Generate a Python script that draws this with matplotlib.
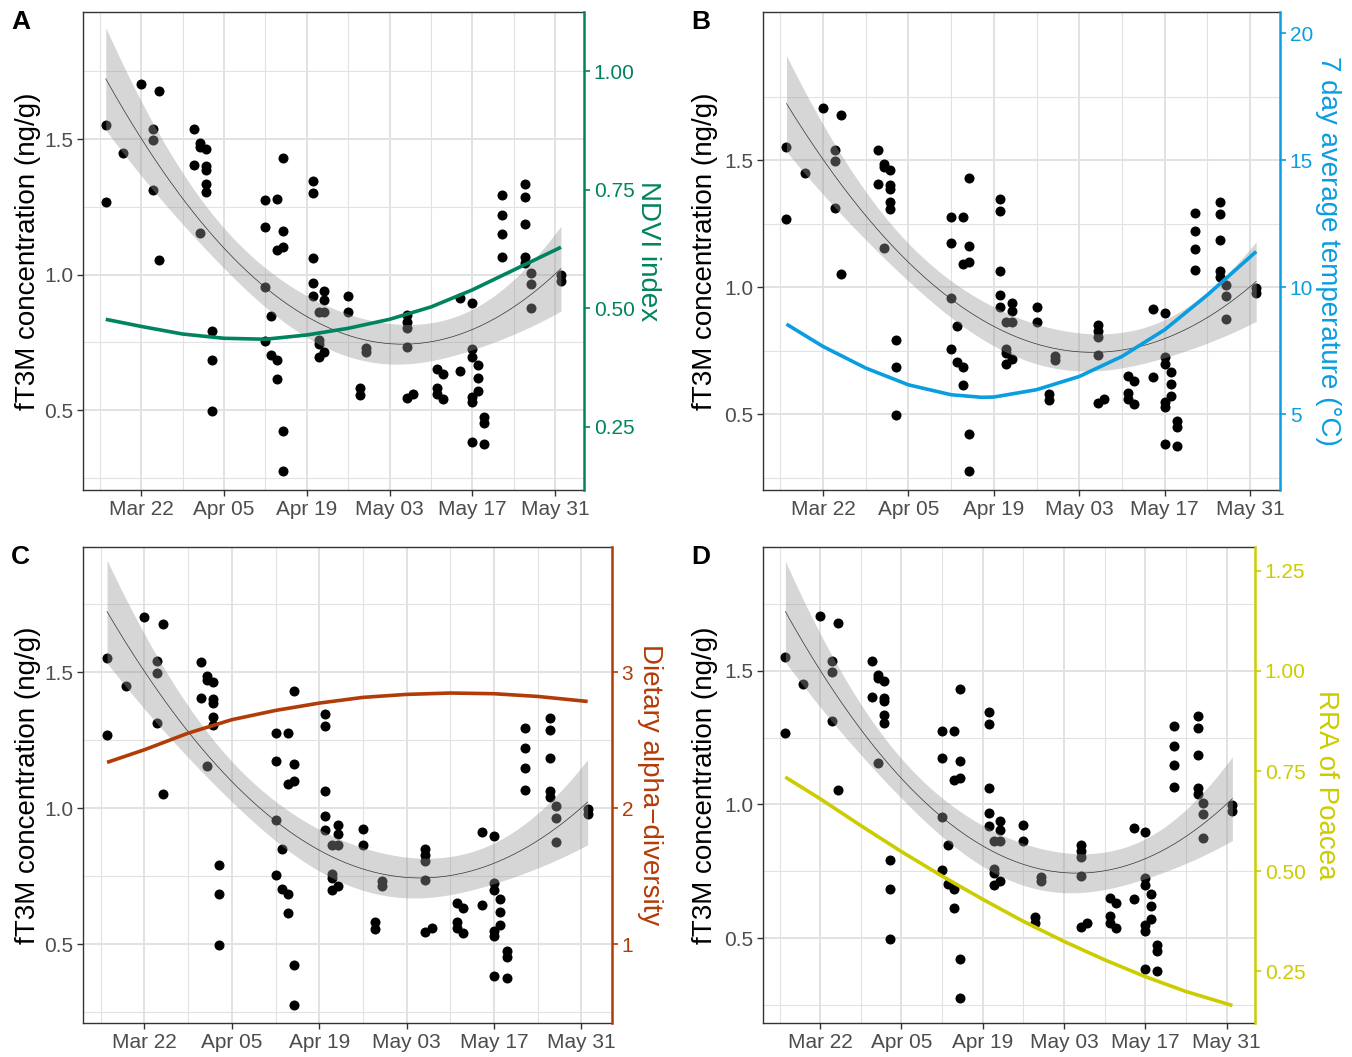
import numpy as np
import matplotlib
matplotlib.use('Agg')
import matplotlib.pyplot as plt

plt.rcParams['font.family'] = ['Liberation Sans', 'DejaVu Sans']

# fT3M samples: day offset from Mar 22, concentration (ng/g)
sample_day = [-6, -6, -3, 0, 2, 2, 2, 3, 3,
              9, 9, 10, 10, 10, 11, 11, 11, 11, 11, 12, 12, 12,
              21, 21, 21, 21, 22, 22, 23, 23, 23, 23, 24, 24, 24, 24, 24,
              29, 29, 29, 29, 29, 30, 30, 30, 30, 31, 31, 31, 31,
              35, 35, 37, 37, 38, 38,
              45, 45, 45, 45, 45, 46, 50, 50, 50, 51, 51, 54, 54,
              56, 56, 56, 56, 56, 56, 57, 57, 57, 58, 58, 58,
              61, 61, 61, 61, 65, 65, 65, 65, 65, 66, 66, 66, 71, 71]
ft3m = [1.553, 1.268, 1.450, 1.704, 1.539, 1.496, 1.312, 1.678, 1.053,
        1.538, 1.404, 1.484, 1.472, 1.154, 1.462, 1.400, 1.386, 1.336, 1.306, 0.792, 0.684, 0.498,
        1.275, 1.174, 0.955, 0.755, 0.848, 0.703, 1.277, 1.090, 0.684, 0.614, 1.431, 1.162, 1.100, 0.422, 0.276,
        1.345, 1.300, 1.062, 0.970, 0.921, 0.863, 0.758, 0.742, 0.697, 0.939, 0.906, 0.863, 0.715,
        0.922, 0.863, 0.580, 0.555, 0.730, 0.713,
        0.850, 0.826, 0.804, 0.734, 0.543, 0.558, 0.651, 0.582, 0.558, 0.632, 0.539, 0.645, 0.912,
        0.896, 0.725, 0.697, 0.549, 0.528, 0.383, 0.665, 0.619, 0.570, 0.473, 0.451, 0.375,
        1.293, 1.220, 1.148, 1.066, 1.333, 1.287, 1.185, 1.063, 1.041, 1.007, 0.964, 0.875, 0.998, 0.977]

# secondary curves
curve_day = [-6, 0, 7, 14, 21, 28, 35, 42, 49, 56, 63, 71]
ndvi = [0.477, 0.462, 0.446, 0.437, 0.435, 0.444, 0.458, 0.477, 0.503, 0.539, 0.581, 0.629]
temp_day = [-6, 0, 7, 14, 21, 26, 28, 35, 42, 49, 56, 63, 71]
temp = [8.54, 7.66, 6.81, 6.15, 5.76, 5.66, 5.67, 5.96, 6.48, 7.27, 8.32, 9.69, 11.4]
diversity = [2.336, 2.429, 2.551, 2.650, 2.718, 2.772, 2.814, 2.836, 2.846, 2.841, 2.821, 2.784]
rra = [0.735, 0.681, 0.614, 0.549, 0.488, 0.430, 0.375, 0.325, 0.279, 0.237, 0.200, 0.165]

date_ticks = [0, 14, 28, 42, 56, 70]
date_labels = ['Mar 22', 'Apr 05', 'Apr 19', 'May 03', 'May 17', 'May 31']

W, H = 1352, 1057
fig = plt.figure(figsize=(W / 100, H / 100), dpi=100)


def rect(l, r, t, b):
    return [l / W, 1 - b / H, (r - l) / W, (b - t) / H]


# quadratic fit with 95% band
x = np.array(sample_day, float)
y = np.array(ft3m)
X = np.vstack([np.ones_like(x), x, x ** 2]).T
beta = np.linalg.lstsq(X, y, rcond=None)[0]
resid = y - X @ beta
s2 = resid @ resid / (len(x) - 3)
cov = s2 * np.linalg.inv(X.T @ X)
xx = np.linspace(x.min(), x.max(), 200)
XX = np.vstack([np.ones_like(xx), xx, xx ** 2]).T
fit = XX @ beta
se = np.sqrt(np.einsum('ij,jk,ik->i', XX, cov, XX))
lo, hi = fit - 1.985 * se, fit + 1.985 * se

panels = [
    dict(letter='A', box=(83, 584, 12, 490), ylim=(0.2048, 1.969), scale=1 / 1.75,
         cx=curve_day, cy=ndvi, color='#00845f', rticks=[0.25, 0.5, 0.75, 1.0],
         rlabels=['0.25', '0.50', '0.75', '1.00'], rtitle='NDVI index', rx=648, lx=28, px=11),
    dict(letter='B', box=(763, 1280, 12, 490), ylim=(0.201, 2.083), scale=10,
         cx=temp_day, cy=temp, color='#0a9de0', rticks=[5, 10, 15, 20],
         rlabels=['5', '10', '15', '20'], rtitle='7 day average temperature (°C)', rx=1328, lx=705, px=691),
    dict(letter='C', box=(83, 612, 547, 1023), ylim=(0.2096, 1.96), scale=2,
         cx=curve_day, cy=diversity, color='#b23c08', rticks=[1, 2, 3],
         rlabels=['1', '2', '3'], rtitle='Dietary alpha\u2212diversity', rx=650, lx=28, px=11),
    dict(letter='D', box=(763, 1255, 547, 1023), ylim=(0.182, 1.964), scale=1 / 1.5,
         cx=curve_day, cy=rra, color='#cccc00', rticks=[0.25, 0.5, 0.75, 1.0, 1.25],
         rlabels=['0.25', '0.50', '0.75', '1.00', '1.25'], rtitle='RRA of Poacea', rx=1326, lx=705, px=691),
]

for p in panels:
    l, r, t, b = p['box']
    ax = fig.add_axes(rect(l, r, t, b))
    ax.set_xlim(-9.85, 74.9)
    ax.set_ylim(*p['ylim'])
    ax.set_xticks(date_ticks)
    ax.set_xticklabels(date_labels)
    ax.set_xticks([-7, 7, 21, 35, 49, 63], minor=True)
    ax.set_yticks([0.5, 1.0, 1.5])
    ax.set_yticklabels(['0.5', '1.0', '1.5'])
    ax.set_yticks([0.25, 0.75, 1.25, 1.75], minor=True)
    ax.grid(which='major', color='#e2e2e2', lw=1.4)
    ax.grid(which='minor', color='#e2e2e2', lw=0.8)
    ax.set_axisbelow(True)
    ax.tick_params(which='minor', length=0)
    ax.tick_params(which='major', length=4, width=1, color='#333333',
                   labelsize=15, labelcolor='#4d4d4d', pad=3)
    for s in ['left', 'top', 'bottom']:
        ax.spines[s].set_color('#333333')
        ax.spines[s].set_linewidth(1.0)
    ax.spines['right'].set_visible(False)

    ax.scatter(sample_day, ft3m, s=52, color='black', linewidths=0, zorder=2)
    ax.fill_between(xx, lo, hi, color='#999999', alpha=0.4, linewidth=0, zorder=3)
    ax.plot(xx, fit, color='#333333', lw=0.5, zorder=4)

    ax2 = ax.twinx()
    ax2.set_ylim(p['ylim'][0] * p['scale'], p['ylim'][1] * p['scale'])
    ax2.plot(p['cx'], p['cy'], color=p['color'], lw=2.6, solid_capstyle='butt',
             solid_joinstyle='round')
    ax2.set_yticks(p['rticks'])
    ax2.set_yticklabels(p['rlabels'])
    ax2.tick_params(axis='y', length=4, width=1.2, color=p['color'],
                    labelsize=15, labelcolor=p['color'], pad=3)
    for s in ['left', 'top', 'bottom']:
        ax2.spines[s].set_visible(False)
    ax2.spines['right'].set_color(p['color'])
    ax2.spines['right'].set_linewidth(1.8)

    cy = (t + b) / 2
    fig.text(p['lx'] / W, 1 - cy / H, 'fT3M concentration (ng/g)', rotation=90,
             ha='center', va='center', fontsize=20, color='black')
    fig.text(p['rx'] / W, 1 - cy / H, p['rtitle'], rotation=270,
             ha='center', va='center', fontsize=20, color=p['color'])
    fig.text(p['px'] / W, 1 - (t + 10) / H, p['letter'], ha='left', va='center',
             fontsize=19, fontweight='bold')

fig.savefig('out.png', dpi=100)
